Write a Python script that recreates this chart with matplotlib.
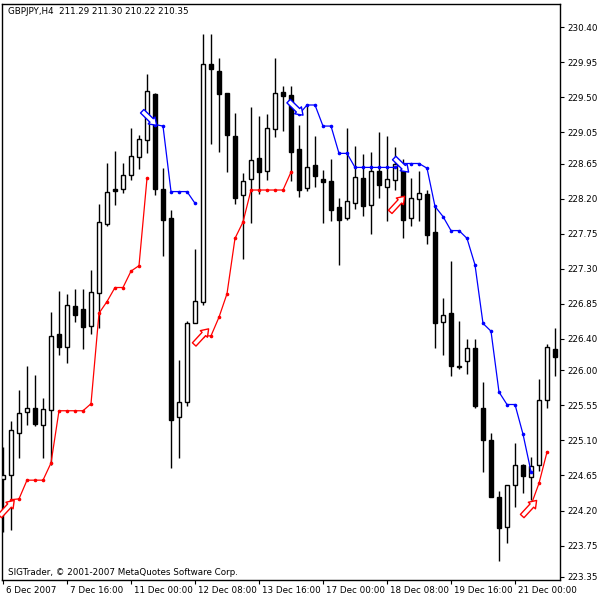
import numpy as np
import matplotlib.pyplot as plt
from matplotlib.patches import Rectangle
from matplotlib.transforms import ScaledTranslation

# GBPJPY H4 candles
opens = [224.61, 224.65, 225.20, 225.47, 225.52, 225.30, 225.49, 226.47, 226.30, 226.82,
         226.79, 226.57, 226.99, 227.87, 228.32, 228.32, 228.50, 228.73, 228.95, 229.54,
         228.32, 227.95, 225.40, 225.59, 226.61, 226.87, 229.93, 229.84, 229.55, 229.00,
         228.24, 228.45, 228.72, 228.56, 229.09, 229.57, 229.53, 228.83, 228.34, 228.63,
         228.45, 228.42, 228.09, 227.95, 228.14, 228.47, 228.12, 228.55, 228.35, 228.44,
         228.63, 227.95, 228.19, 228.26, 227.77, 226.62, 226.73, 226.04, 226.12, 226.28,
         225.52, 225.10, 224.38, 223.99, 224.53, 224.79, 224.63, 224.78, 225.62, 226.27]
closes = [224.66, 225.23, 225.45, 225.52, 225.31, 225.50, 226.44, 226.30, 226.84, 226.71,
          226.56, 227.00, 227.90, 228.29, 228.30, 228.50, 228.74, 228.96, 229.58, 228.32,
          227.93, 225.36, 225.59, 226.60, 226.89, 229.92, 229.86, 229.54, 229.02, 228.21,
          228.42, 228.70, 228.54, 229.10, 229.55, 229.51, 228.80, 228.31, 228.60, 228.49,
          228.41, 228.06, 227.93, 228.17, 228.48, 228.11, 228.56, 228.37, 228.45, 228.65,
          227.93, 228.21, 228.27, 227.73, 226.61, 226.71, 226.05, 226.06, 226.29, 225.54,
          225.11, 224.38, 223.98, 224.53, 224.79, 224.64, 224.77, 225.62, 226.30, 226.17]
highs = [225.01, 225.35, 225.74, 226.06, 225.94, 225.64, 226.75, 227.02, 226.98, 227.04,
         227.04, 227.28, 228.13, 228.66, 228.81, 228.66, 229.10, 229.02, 229.80, 229.56,
         228.59, 228.06, 226.13, 226.63, 227.56, 230.31, 230.31, 230.00, 229.55, 229.30,
         228.53, 229.37, 229.26, 229.28, 230.00, 229.65, 229.64, 229.15, 229.41, 229.00,
         228.57, 228.71, 228.21, 229.10, 228.88, 228.77, 228.80, 229.05, 229.00, 228.86,
         228.71, 228.46, 228.56, 228.31, 228.12, 226.93, 227.40, 226.63, 226.40, 226.40,
         225.85, 225.19, 224.45, 224.53, 225.07, 224.80, 224.89, 225.89, 226.33, 226.54]
lows = [223.93, 223.95, 224.88, 225.30, 225.29, 224.88, 224.78, 226.19, 226.09, 226.62,
        226.27, 226.47, 226.54, 227.85, 228.12, 228.27, 228.44, 228.58, 228.78, 228.24,
        227.47, 224.75, 224.87, 225.54, 226.60, 226.84, 228.90, 228.80, 228.54, 228.13,
        227.42, 227.89, 228.26, 228.44, 228.99, 229.07, 228.43, 228.22, 228.30, 228.35,
        227.89, 227.91, 227.35, 227.93, 228.07, 227.98, 227.75, 228.21, 227.91, 228.31,
        227.70, 227.85, 227.91, 227.62, 226.28, 226.19, 225.93, 226.01, 225.95, 225.51,
        224.70, 224.38, 223.55, 223.78, 224.24, 224.42, 224.34, 224.71, 225.52, 225.93]

# trailing stop segments (start index, values)
red_segments = [
    (1, [224.34, 224.35, 224.59, 224.59, 224.59, 224.81, 225.48, 225.48, 225.48, 225.48,
         225.57, 226.73, 226.88, 227.06, 227.06, 227.27, 227.34, 228.46]),
    (25, [226.44, 226.44, 226.68, 226.98, 227.69, 227.90, 228.31, 228.31, 228.31, 228.31,
          228.31, 228.54]),
    (66, [224.27, 224.55, 224.95]),
]
blue_segments = [
    (18, [229.27, 229.15, 229.13, 228.29, 228.29, 228.29, 228.14]),
    (36, [229.42, 229.28, 229.40, 229.40, 229.13, 229.13, 228.78, 228.78, 228.60, 228.60,
          228.60, 228.60, 228.60, 228.60, 228.65, 228.65, 228.65, 228.59, 228.10, 227.97,
          227.79, 227.79, 227.69, 227.35, 226.60, 226.50, 225.72, 225.56, 225.56, 225.18,
          224.70]),
]
# signal arrows (index, price, colour)
arrows = [(0.5, 224.25, 'red'), (24.8, 226.45, 'red'), (49.3, 228.15, 'red'),
          (65.8, 224.25, 'red'), (18.3, 229.22, 'blue'), (36.6, 229.35, 'blue'),
          (49.8, 228.62, 'blue')]

price_ticks = [230.40, 229.95, 229.50, 229.05, 228.65, 228.20, 227.75, 227.30, 226.85,
               226.40, 226.00, 225.55, 225.10, 224.65, 224.20, 223.75, 223.35]
date_idx = [0, 8, 16, 24, 32, 40, 48, 56, 64]
date_labels = ['6 Dec 2007', '7 Dec 16:00', '11 Dec 00:00', '12 Dec 08:00', '13 Dec 16:00',
               '17 Dec 00:00', '18 Dec 08:00', '19 Dec 16:00', '21 Dec 00:00']

fig = plt.figure(figsize=(6, 6), dpi=100)
ax = fig.add_axes([2 / 600, 20 / 600, 558 / 600, 576 / 600])
ax.set_xlim(-0.125, 69.625)
ax.set_ylim(223.31, 230.695)

w = 0.62
for i in range(len(opens)):
    o, c, h, l = opens[i], closes[i], highs[i], lows[i]
    ax.vlines(i, l, h, color='black', lw=1, zorder=2)
    lo, hi = min(o, c), max(o, c)
    face = 'white' if c >= o else 'black'
    ax.add_patch(Rectangle((i - w / 2, lo), w, max(hi - lo, 0.015), fc=face, ec='black',
                           lw=1, zorder=3))

for start, vals in red_segments:
    x = np.arange(start, start + len(vals))
    ax.plot(x, vals, color='red', lw=0.9, marker='o', ms=1.6, zorder=4)
for start, vals in blue_segments:
    x = np.arange(start, start + len(vals))
    ax.plot(x, vals, color='blue', lw=0.9, marker='o', ms=1.6, zorder=4)

for xi, p, col in arrows:
    if col == 'red':
        tail, head = (xi - 0.9, p - 0.12), (xi + 0.9, p + 0.08)
    else:
        tail, head = (xi - 0.9, p + 0.1), (xi + 0.9, p - 0.08)
    ax.annotate('', xy=head, xytext=tail, zorder=5,
                arrowprops=dict(arrowstyle='simple,head_width=0.7,head_length=0.5,tail_width=0.35',
                                fc='white', ec=col, lw=1, shrinkA=0, shrinkB=0))

ax.yaxis.tick_right()
ax.set_yticks(price_ticks)
ax.set_yticklabels([f'{p:.2f}' for p in price_ticks], fontsize=6.3)
ax.set_xticks(date_idx)
ax.set_xticklabels(date_labels, fontsize=6.3, ha='left')
ax.tick_params(axis='x', length=3, pad=1)
ax.tick_params(axis='y', length=3, pad=2)
offset = ScaledTranslation(2 / 72, 0, fig.dpi_scale_trans)
for lab in ax.get_xticklabels():
    lab.set_transform(lab.get_transform() + offset)
ax.text(0.01, 0.995, 'GBPJPY,H4  211.29 211.30 210.22 210.35', transform=ax.transAxes,
        fontsize=6.3, va='top', ha='left')
ax.text(0.01, 0.005, 'SIGTrader, © 2001-2007 MetaQuotes Software Corp.', transform=ax.transAxes,
        fontsize=6.3, va='bottom', ha='left')
for s in ax.spines.values():
    s.set_linewidth(1)

fig.savefig('out.png', dpi=100)
